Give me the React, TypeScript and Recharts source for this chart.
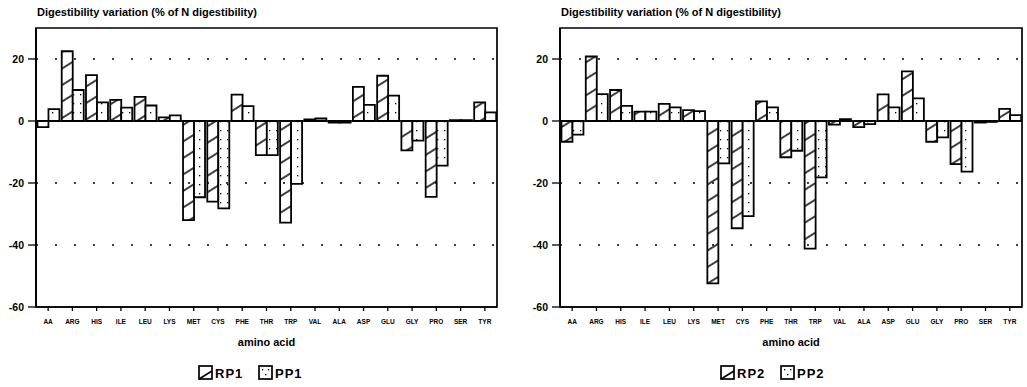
import React from 'react';
import { BarChart, Bar, XAxis, YAxis, ReferenceLine, ReferenceArea, Legend, Label } from 'recharts';

const categories = ['AA', 'ARG', 'HIS', 'ILE', 'LEU', 'LYS', 'MET', 'CYS', 'PHE', 'THR', 'TRP', 'VAL', 'ALA', 'ASP', 'GLU', 'GLY', 'PRO', 'SER', 'TYR'];
const rp1 = [-2, 22.5, 14.8, 6.8, 7.8, 1.2, -32, -26, 8.5, -11, -32.8, 0.5, -0.5, 11, 14.6, -9.5, -24.5, 0.3, 6];
const pp1 = [3.8, 10, 6, 4.3, 5, 1.8, -24.6, -28.2, 4.8, -11, -20.3, 0.8, -0.5, 5.2, 8.2, -6.3, -14.4, 0.3, 2.8];
const rp2 = [-6.7, 20.8, 10, 3, 5.5, 3.5, -52.4, -34.6, 6.3, -11.7, -41.2, -1.2, -2, 8.6, 16, -6.7, -13.9, -0.5, 3.9];
const pp2 = [-4.4, 8.7, 4.9, 3, 4.4, 3.2, -13.7, -30.7, 4.4, -9.6, -18.2, 0.6, -1, 4.4, 7.3, -5.3, -16.3, -0.3, 1.9];
const yTicks = [20, 0, -20, -40, -60];
const gridLevels = [20, -20, -40];
const titleText = 'Digestibility variation (% of N digestibility)';
const xAxisTitle = 'amino acid';

const FONT = '"Liberation Sans", Arial, Helvetica, sans-serif';

type PanelProps = {
  id: string;
  rp: number[];
  pp: number[];
  rpName: string;
  ppName: string;
  left: number;
  width: number;
  marginLeft: number;
  marginRight: number;
  legendLeft: number;
};

function LegendContent({ rpName, ppName }: { rpName: string; ppName: string }) {
  return (
    <svg width={130} height={18} style={{ display: 'block', overflow: 'visible' }}>
      <rect x={1} y={2} width={13} height={13} fill="#fff" stroke="#000" strokeWidth={1.7} />
      <line x1={1} y1={15} x2={14} y2={7} stroke="#000" strokeWidth={1.5} />
      <text x={17} y={14} fontFamily={FONT} fontWeight="bold" fontSize={13} letterSpacing={1} fill="#000">{rpName}</text>
      <rect x={61} y={2} width={13} height={13} fill="#fff" stroke="#000" strokeWidth={1.7} />
      <rect x={64} y={5} width={1.3} height={1.3} fill="#000" />
      <rect x={70} y={5} width={1.3} height={1.3} fill="#000" />
      <rect x={67} y={10} width={1.3} height={1.3} fill="#000" />
      <text x={77} y={14} fontFamily={FONT} fontWeight="bold" fontSize={13} letterSpacing={1} fill="#000">{ppName}</text>
    </svg>
  );
}

function Panel({ id, rp, pp, rpName, ppName, left, width, marginLeft, marginRight, legendLeft }: PanelProps) {
  const data = categories.map((c, i) => ({ cat: c, rp: rp[i], pp: pp[i] }));
  return (
    <div style={{ position: 'absolute', left, top: 0, width, height: 387 }}>
      <div
        style={{
          position: 'absolute',
          left: marginLeft + 37,
          top: 6,
          fontFamily: FONT,
          fontWeight: 'bold',
          fontSize: 11,
          whiteSpace: 'nowrap',
          color: '#000',
          lineHeight: '13px',
        }}
      >
        {titleText}
      </div>
      <BarChart
        width={width}
        height={387}
        data={data}
        margin={{ top: 28, right: marginRight, bottom: 0, left: marginLeft }}
        barCategoryGap="6%"
        barGap={0}
      >
        <defs>
          <pattern id={`hatch${id}`} patternUnits="userSpaceOnUse" width={14} height={14} patternTransform="rotate(-32)">
            <rect x={0} y={0} width={14} height={14} fill="#fff" />
            <line x1={0} y1={7} x2={14} y2={7} stroke="#000" strokeWidth={1.5} />
          </pattern>
          <pattern id={`dots${id}`} patternUnits="userSpaceOnUse" width={7} height={9}>
            <rect x={0} y={0} width={7} height={9} fill="#fff" />
            <rect x={3} y={4} width={1.3} height={1.3} fill="#000" />
          </pattern>
        </defs>
        <XAxis
          dataKey="cat"
          height={80}
          interval={0}
          tickSize={4}
          tickMargin={8}
          axisLine={{ stroke: '#000', strokeWidth: 1.7 }}
          tickLine={{ stroke: '#000', strokeWidth: 1.3 }}
          tick={{ fontSize: 6.5, fontWeight: 'bold', fill: '#000', fontFamily: FONT }}
        >
          <Label value={xAxisTitle} position="insideTop" offset={31} style={{ fontSize: 11, fontWeight: 'bold', fill: '#000', fontFamily: FONT }} />
        </XAxis>
        <YAxis
          type="number"
          domain={[-60, 30]}
          ticks={yTicks}
          interval={0}
          allowDataOverflow
          width={36}
          tickSize={8}
          tickMargin={4}
          axisLine={{ stroke: '#000', strokeWidth: 1.7 }}
          tickLine={{ stroke: '#000', strokeWidth: 1.3 }}
          tick={{ fontSize: 10.5, fontWeight: 'bold', fill: '#000', fontFamily: FONT }}
        />
        <ReferenceArea y1={-60} y2={30} fill="none" stroke="#000" strokeWidth={1.7} ifOverflow="visible" />
        {gridLevels.map((v) => (
          <ReferenceLine key={v} y={v} stroke="#000" strokeWidth={1.6} strokeDasharray="2 17" />
        ))}
        <ReferenceLine y={0} stroke="#000" strokeWidth={1.7} />
        <Bar dataKey="rp" name={rpName} fill={`url(#hatch${id})`} stroke="#000" strokeWidth={1.8} isAnimationActive={false} />
        <Bar dataKey="pp" name={ppName} fill={`url(#dots${id})`} stroke="#000" strokeWidth={1.8} isAnimationActive={false} />
        <Legend
          layout="horizontal"
          verticalAlign="middle"
          align="center"
          wrapperStyle={{ position: 'absolute', left: legendLeft, top: 364, width: 130, height: 18 }}
          content={() => <LegendContent rpName={rpName} ppName={ppName} />}
        />
      </BarChart>
    </div>
  );
}

export default function App() {
  return (
    <div style={{ position: 'fixed', left: 0, top: 0, width: 1027, height: 387, background: '#fff', overflow: 'hidden' }}>
      <Panel id="L" rp={rp1} pp={pp1} rpName="RP1" ppName="PP1" left={0} width={510} marginLeft={0} marginRight={13} legendLeft={198} />
      <Panel id="R" rp={rp2} pp={pp2} rpName="RP2" ppName="PP2" left={514} width={513} marginLeft={10} marginRight={5} legendLeft={206} />
    </div>
  );
}
